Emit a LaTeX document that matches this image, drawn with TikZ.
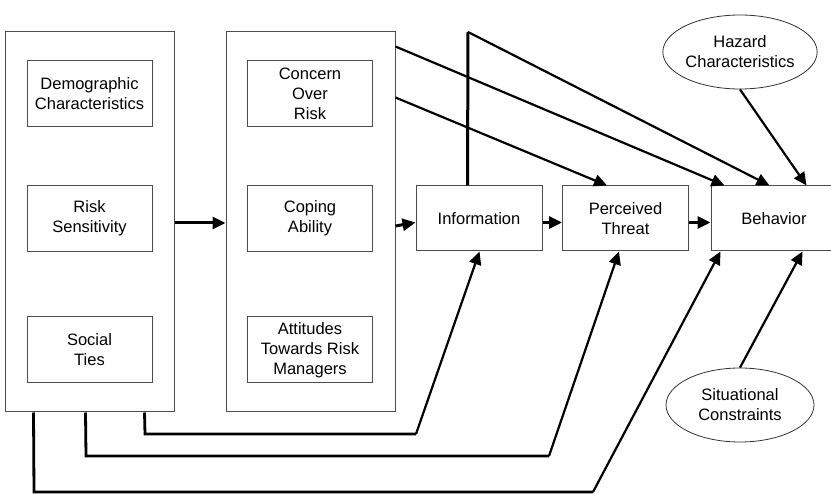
\documentclass[tikz,border=0pt]{standalone}
\usepackage{fontspec}
\setmainfont{Liberation Sans}
\usetikzlibrary{shapes.geometric,arrows.meta,calc}
\begin{document}
\begin{tikzpicture}[x=1pt,y=-1pt,
  every node/.style={font=\fontsize{16.5}{20}\selectfont, align=center, inner sep=0pt},
  frame/.style={draw=black!70, line width=1pt, rectangle},
  outer/.style={frame, minimum width=169pt, minimum height=380pt},
  inner/.style={frame, minimum width=125pt, minimum height=66pt},
  stage/.style={frame, minimum width=126pt, minimum height=65pt},
  oval/.style={draw=black!80, line width=0.8pt, ellipse, minimum width=148pt, minimum height=74pt},
  link/.style={line width=2.2pt, -{Triangle[length=13pt,width=12pt]}},
  flow/.style={link, line width=3pt},
  bus/.style={line width=2.8pt, line join=miter},
]
\useasboundingbox (0,0) rectangle (831,494);
\clip (0,0) rectangle (831,494);

% left block of personal factors
\node[outer] (L) at (89.5,222) {};
\node[inner] (dem) at (89.5,94) {Demographic\\Characteristics};
\node[inner] (rs)  at (89.5,218.5) {Risk\\Sensitivity};
\node[inner] (st)  at (89.5,350) {Social\\Ties};

% middle block of appraisals
\node[outer] (M) at (310.5,222) {};
\node[inner] (con) at (310,94) {Concern\\Over\\Risk};
\node[inner] (cop) at (310,218.5) {Coping\\Ability};
\node[inner] (att) at (310,350) {Attitudes\\Towards Risk\\Managers};

% main chain
\node[stage] (I) at (479,218.5) {Information};
\node[stage] (P) at (625.5,218.5) {Perceived\\Threat};
\node[stage] (B) at (774,218.5) {Behavior};

% external factors
\node[oval] (H) at (740,52) {Hazard\\Characteristics};
\node[oval] (S) at (740,405) {Situational\\Constraints};

% horizontal flow
\draw[flow] ($(L.east)+(0,1)$) -- ($(M.west)+(0,1)$);
\draw[flow] ($(M.east)+(0,4)$) -- ($(I.west)+(0,4)$);
\draw[flow] ($(I.east)+(0,4)$) -- ($(P.west)+(0,4)$);
\draw[flow] ($(P.east)+(0,4)$) -- ($(B.west)+(0,4)$);

% appraisal block to threat and behaviour
\draw[link] ($(M.north east)+(0,15)$) -- ($(B.north west)+(14,0)$);
\draw[link] ($(M.north east)+(0,66)$) -- ($(P.north west)+(45,0)$);

% information to behaviour over the top
\coordinate (itop) at (468,32);
\draw[line width=3pt] ($(I.north west)+(52,0)$) -- (itop);
\draw[link] (itop) -- ($(B.north west)+(59,0)$);

% external factors to behaviour
\draw[link] (H.south) -- ($(B.north west)+(96,0)$);
\draw[link] (S.north) -- ($(B.south west)+(92,0)$);

% personal factors along the bottom
\coordinate (b1) at (145,434);
\coordinate (c1) at (416,434);
\coordinate (b2) at (86,456);
\coordinate (c2) at (549,456);
\coordinate (b3) at (34,492);
\coordinate (c3) at (593,492);
\draw[bus] ($(L.south west)+(140,0)$) -- (b1) -- (c1);
\draw[link] (c1) -- ($(I.south west)+(64,0)$);
\draw[bus] ($(L.south west)+(81,0)$) -- (b2) -- (c2);
\draw[link] (c2) -- ($(P.south west)+(57,0)$);
\draw[bus] ($(L.south west)+(29,0)$) -- (b3) -- (c3);
\draw[link] (c3) -- ($(B.south west)+(10,0)$);
\end{tikzpicture}
\end{document}
